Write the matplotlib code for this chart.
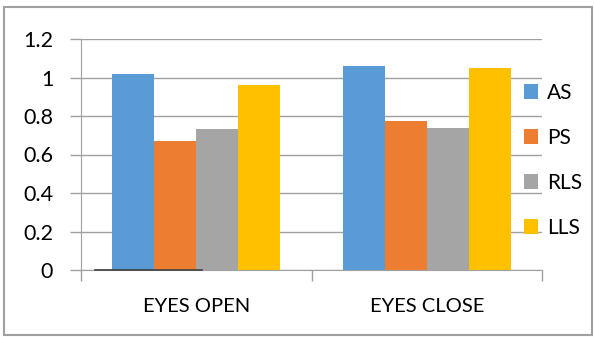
import matplotlib.pyplot as plt
import numpy as np

# data
categories = ["EYES OPEN", "EYES CLOSE"]
series = ["AS", "PS", "RLS", "LLS"]
as_vals = [1.02, 1.06]
ps_vals = [0.67, 0.775]
rls_vals = [0.73, 0.74]
lls_vals = [0.96, 1.05]
colors = ["#5b9bd5", "#ed7d31", "#a5a5a5", "#ffc000"]

plt.rcParams['font.family'] = ['Lato', 'DejaVu Sans']

fig = plt.figure(figsize=(5.94, 3.37), dpi=100)
ax = fig.add_axes([81/594, 1 - 270/337, (542-81)/594, (270-39)/337])

x = np.arange(len(categories))
w = 0.182
for i, (name, vals) in enumerate(zip(series, [as_vals, ps_vals, rls_vals, lls_vals])):
    ax.bar(x + (i - 1.5) * w, vals, w, color=colors[i], label=name, zorder=3)

ax.set_xlim(-0.5, 1.5)
ax.set_ylim(0, 1.2)
ax.set_yticks(np.arange(0, 1.21, 0.2))
ax.set_yticklabels(["0", "0.2", "0.4", "0.6", "0.8", "1", "1.2"])
ax.set_xticks(x)
ax.set_xticklabels(categories)
ax.set_xticks([-0.5, 0.5, 1.5], minor=True)
ax.tick_params(axis='x', which='major', length=0, pad=20, labelsize=14.5)
ax.tick_params(axis='x', which='minor', length=8, color='#a0a0a0', width=1)
ax.tick_params(axis='y', length=8, color='#a0a0a0', width=1, labelsize=15.5, pad=12)
ax.grid(axis='y', color='#a0a0a0', lw=1, zorder=0)
for s in ['top', 'right']:
    ax.spines[s].set_visible(False)
ax.spines['left'].set_color('#a0a0a0')
ax.spines['bottom'].set_color('#a0a0a0')
# odd dark segment on the baseline
ax.plot([-0.44, 0.025], [0, 0], color='#404040', lw=1.2, zorder=4, clip_on=False)

leg = ax.legend(loc='center left', bbox_to_anchor=(0.92, 0.474), frameon=False,
                fontsize=15, handlelength=0.7, handleheight=0.7,
                labelspacing=1.2, handletextpad=0.4)

# outer border
fig.patches.append(plt.Rectangle((4/594, 2/337), 588/594, 328/337, transform=fig.transFigure,
                                 fill=False, edgecolor='#a0a0a0', lw=1.5))

fig.savefig("out.png", dpi=100)
